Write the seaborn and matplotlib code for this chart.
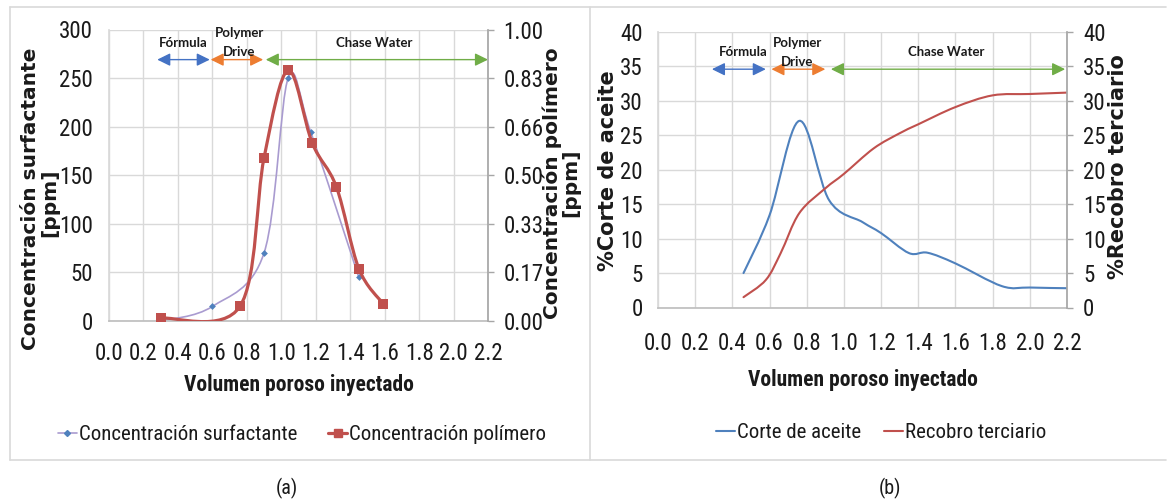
import numpy as np
import pandas as pd
import matplotlib
matplotlib.use("Agg")
import matplotlib.pyplot as plt
from matplotlib.path import Path
from matplotlib.patches import PathPatch
from matplotlib.lines import Line2D
from matplotlib import font_manager as fm
from matplotlib.font_manager import FontProperties
import seaborn as sns

# ---- panel (a): effluent concentrations ----
surf_pv = [0.30, 0.60, 0.90, 1.04, 1.17, 1.45]
surf_ppm = [0, 15, 70, 250, 195, 45]
poly_pv = [0.30, 0.76, 0.90, 1.04, 1.18, 1.32, 1.45, 1.59]
poly_ppm = [0.01, 0.05, 0.56, 0.86, 0.61, 0.46, 0.18, 0.06]

# ---- panel (b): oil cut and tertiary recovery ----
corte_pv = [0.46, 0.60, 0.76, 0.92, 1.10, 1.20, 1.35, 1.45, 1.60, 1.85, 2.00, 2.20]
corte_pct = [5.0, 13.4, 27.1, 15.6, 12.4, 10.8, 7.9, 7.95, 6.4, 3.1, 2.9, 2.8]
recobro_pv = [0.46, 0.58, 0.66, 0.76, 0.90, 1.00, 1.16, 1.30, 1.40, 1.60, 1.80, 2.00, 2.20]
recobro_pct = [1.5, 4.0, 7.9, 13.7, 17.3, 19.4, 23.1, 25.3, 26.6, 29.1, 30.8, 31.0, 31.2]

x_ticks = [0.0, 0.2, 0.4, 0.6, 0.8, 1.0, 1.2, 1.4, 1.6, 1.8, 2.0, 2.2]
surf_ticks = [0, 50, 100, 150, 200, 250, 300]
poly_ticks = [0, 1 / 6, 2 / 6, 3 / 6, 4 / 6, 5 / 6, 1.0]
poly_tick_labels = ["0.00", "0.17", "0.33", "0.50", "0.66", "0.83", "1.00"]
pct_ticks = [0, 5, 10, 15, 20, 25, 30, 35, 40]

# injection stages: (label, start, end, colour, text x)
stages_a = [("Fórmula", 0.28, 0.585, "#4472C4", 0.43),
            ("Polymer\nDrive", 0.59, 0.895, "#ED7D31", 0.755),
            ("Chase Water", 0.91, 2.2, "#70AD47", 1.54)]
stages_b = [("Fórmula", 0.29, 0.58, "#4472C4", 0.46),
            ("Polymer\nDrive", 0.61, 0.90, "#ED7D31", 0.75),
            ("Chase Water", 0.93, 2.19, "#70AD47", 1.55)]

sns.set_theme(style="white")
plt.rcParams["font.family"] = ["Liberation Sans", "DejaVu Sans"]
plt.rcParams["text.color"] = "#1a1a1a"

# ---- condensed sans face for tick labels, axis titles and legends ----
PREFERRED = ["Liberation Sans Narrow", "Arial Narrow", "Roboto Condensed",
             "Open Sans Condensed", "Noto Sans Condensed", "DejaVu Sans Condensed"]


def _weight(f):
    w = f.weight
    if isinstance(w, str):
        w = fm.weight_dict.get(w, 400)
    return int(w)


def _narrow_file(bold):
    faces = [f for f in fm.fontManager.ttflist if f.style == "normal"]

    def ok(f):
        w = _weight(f)
        return 600 <= w <= 800 if bold else 350 <= w <= 500

    for name in PREFERRED:
        for f in faces:
            if f.name == name and ok(f):
                return f.fname
    for want in ("condensed", "semi-condensed"):
        for f in faces:
            n = f.name.lower()
            if "mono" in n or "serif" in n or "cjk" in n:
                continue
            if str(f.stretch).lower() == want and ok(f):
                return f.fname
    return None


NARROW_REG = _narrow_file(False)
NARROW_BOLD = _narrow_file(True)


def nfont(size, bold=False):
    path = NARROW_BOLD if bold else NARROW_REG
    if path:
        return FontProperties(fname=path, size=size)
    return FontProperties(family="Liberation Sans", weight="bold" if bold else "normal",
                          size=size * 0.84)


W, H = 1168, 499
fig = plt.figure(figsize=(W / 100, H / 100), dpi=100)
fig.patch.set_facecolor("white")

GRID = "#d9d9d9"
TICK_FS = 16.5
INK = "#1a1a1a"
BLUE = "#4F81BD"
RED = "#C0504D"
LAVENDER = "#A99BD0"


def fig_box(left, top, right, bottom):
    return [left / W, 1 - bottom / H, (right - left) / W, (bottom - top) / H]


def smooth_path(x, y):
    """Cubic Bezier path through the points (Catmull-Rom style smoothing)."""
    p = np.column_stack([x, y]).astype(float)
    n = len(p)
    verts, codes = [p[0]], [Path.MOVETO]
    for i in range(n - 1):
        p0 = p[i - 1] if i > 0 else p[i]
        p3 = p[i + 2] if i + 2 < n else p[i + 1]
        c1 = p[i] + (p[i + 1] - p0) / 6
        c2 = p[i + 1] - (p3 - p[i]) / 6
        verts += [c1, c2, p[i + 1]]
        codes += [Path.CURVE4] * 3
    return Path(verts, codes)


def add_curve(ax, x, y, color, lw):
    ax.add_patch(PathPatch(smooth_path(x, y), facecolor="none", edgecolor=color,
                           lw=lw, capstyle="round", joinstyle="round", zorder=2))


def style_axes(ax, twin, xpad, ypad_left, ypad_right):
    ax.set_xlim(0, 2.2)
    ax.set_xticks(x_ticks)
    ax.set_xticklabels([f"{v:.1f}" for v in x_ticks])
    ax.grid(True, color=GRID, lw=1.0)
    ax.set_axisbelow(True)
    for s in ("top", "right"):
        ax.spines[s].set_visible(False)
    ax.spines["left"].set_color(GRID)
    ax.spines["bottom"].set_color("#bfbfbf")
    ax.tick_params(axis="x", length=0, pad=xpad, labelcolor=INK)
    ax.tick_params(axis="y", length=0, pad=ypad_left, labelcolor=INK)
    for s in ("top", "left", "bottom"):
        twin.spines[s].set_visible(False)
    twin.spines["right"].set_color("#a6a6a6")
    twin.tick_params(axis="y", right=True, length=4, width=1, color="#a6a6a6",
                     direction="out", pad=ypad_right, labelcolor=INK)
    twin.grid(False)
    for lab in ax.get_xticklabels() + ax.get_yticklabels() + twin.get_yticklabels():
        lab.set_fontproperties(nfont(TICK_FS))


def draw_stages(ax, stages, y_arrow, y_text, y_poly, y_drive):
    kw = dict(ha="center", va="center", fontsize=9.5, family="Lato",
              fontweight="bold", zorder=6, color=INK)
    for label, x0, x1, color, xt in stages:
        ax.annotate("", xy=(x1, y_arrow), xytext=(x0, y_arrow),
                    arrowprops=dict(arrowstyle="<|-|>,head_length=0.65,head_width=0.32",
                                    color=color, lw=1.0, mutation_scale=12,
                                    shrinkA=0, shrinkB=0), zorder=5)
        if "\n" in label:
            top, bottom = label.split("\n")
            ax.text(xt, y_poly, top, **kw)
            ax.text(xt, y_drive, bottom, **kw)
        else:
            ax.text(xt, y_text, label, **kw)


# ================= panel (a) =================
axA = fig.add_axes(fig_box(109, 29.5, 488, 321))
axA2 = axA.twinx()
axA.set_ylim(0, 300)
axA.set_yticks(surf_ticks)
axA2.set_ylim(0, 1)
axA2.set_yticks(poly_ticks)
axA2.set_yticklabels(poly_tick_labels)

surf_df = pd.DataFrame({"pv": surf_pv, "ppm": surf_ppm})
poly_df = pd.DataFrame({"pv": poly_pv, "ppm": poly_ppm})

add_curve(axA, surf_pv, surf_ppm, LAVENDER, 1.2)
sns.scatterplot(data=surf_df, x="pv", y="ppm", ax=axA, marker="D", s=12,
                color=BLUE, edgecolor=BLUE, linewidth=0, zorder=3, legend=False)
add_curve(axA2, poly_pv, poly_ppm, RED, 2.3)
sns.scatterplot(data=poly_df, x="pv", y="ppm", ax=axA2, marker="s", s=48,
                color=RED, edgecolor=RED, linewidth=0, zorder=3, legend=False)
for a in (axA, axA2):
    a.set_xlabel("")
    a.set_ylabel("")
style_axes(axA, axA2, xpad=15, ypad_left=11.5, ypad_right=7)

draw_stages(axA, stages_a, y_arrow=269, y_text=286, y_poly=296.5, y_drive=277)

# ================= panel (b) =================
axB = fig.add_axes(fig_box(658, 32, 1067, 307.5))
axB2 = axB.twinx()
axB.set_ylim(0, 40)
axB.set_yticks(pct_ticks)
axB2.set_ylim(0, 40)
axB2.set_yticks(pct_ticks)

curve_b = pd.DataFrame({"pv": corte_pv, "pct": corte_pct})
add_curve(axB, curve_b["pv"], curve_b["pct"], BLUE, 1.5)
add_curve(axB2, recobro_pv, recobro_pct, RED, 1.5)
style_axes(axB, axB2, xpad=18, ypad_left=11, ypad_right=7.5)

draw_stages(axB, stages_b, y_arrow=34.6, y_text=37.1, y_poly=38.4, y_drive=35.7)

# ================= axis titles =================
bold_kw = dict(family="DejaVu Sans", fontweight="bold", rotation=90,
               ha="center", va="center", color=INK)
fig.text(31 / W, 1 - 199 / H, "Concentración surfactante", fontsize=14.5, **bold_kw)
fig.text(50 / W, 1 - 203 / H, "[ppm]", fontsize=14.5, **bold_kw)
fig.text(552 / W, 1 - 183 / H, "Concentración polímero", fontsize=14.5, **bold_kw)
fig.text(571 / W, 1 - 183 / H, "[ppm]", fontsize=14.5, **bold_kw)
fig.text(608 / W, 1 - 171 / H, "%Corte de aceite", fontsize=15, **bold_kw)
fig.text(1118 / W, 1 - 167 / H, "%Recobro terciario", fontsize=15, **bold_kw)

fig.text(298.5 / W, 1 - 385 / H, "Volumen poroso inyectado", fontproperties=nfont(15.5, True),
         ha="center", va="center", color=INK)
fig.text(862.5 / W, 1 - 380 / H, "Volumen poroso inyectado", fontproperties=nfont(15.5, True),
         ha="center", va="center", color=INK)

# ================= legends =================
leg_kw = dict(loc="center", ncol=2, frameon=False, prop=nfont(15),
              handlelength=0.9, handletextpad=0.1, borderpad=0, borderaxespad=0)
hA = [Line2D([], [], color=LAVENDER, lw=1.2, marker="D", markersize=3,
             markerfacecolor=BLUE, markeredgecolor=BLUE),
      Line2D([], [], color=RED, lw=2.3, marker="s", markersize=6,
             markerfacecolor=RED, markeredgecolor=RED)]
legA = fig.legend(hA, ["Concentración surfactante", "Concentración polímero"],
                  bbox_to_anchor=(302 / W, 1 - 435 / H), columnspacing=1.5, **leg_kw)
hB = [Line2D([], [], color=BLUE, lw=1.5), Line2D([], [], color=RED, lw=1.5)]
legB = fig.legend(hB, ["Corte de aceite", "Recobro terciario"],
                  bbox_to_anchor=(881 / W, 1 - 433 / H), columnspacing=1.1, **leg_kw)
for leg in (legA, legB):
    for t in leg.get_texts():
        t.set_color(INK)

# ================= panel frames and captions =================
frame = dict(color="#d9d9d9", lw=1.2, transform=fig.transFigure)
fig.add_artist(Line2D([10 / W, 1166 / W], [1 - 7 / H, 1 - 7 / H], **frame))
fig.add_artist(Line2D([10 / W, 1166 / W], [1 - 460 / H, 1 - 460 / H], **frame))
fig.add_artist(Line2D([10 / W, 10 / W], [1 - 7 / H, 1 - 460 / H], **frame))
fig.add_artist(Line2D([590 / W, 590 / W], [1 - 7 / H, 1 - 460 / H], **frame))

fig.text(287 / W, 1 - 488 / H, "(a)", fontproperties=nfont(14.5), ha="center", va="center", color=INK)
fig.text(890 / W, 1 - 488 / H, "(b)", fontproperties=nfont(14.5), ha="center", va="center", color=INK)

fig.savefig("out.png", dpi=100, facecolor="white")
